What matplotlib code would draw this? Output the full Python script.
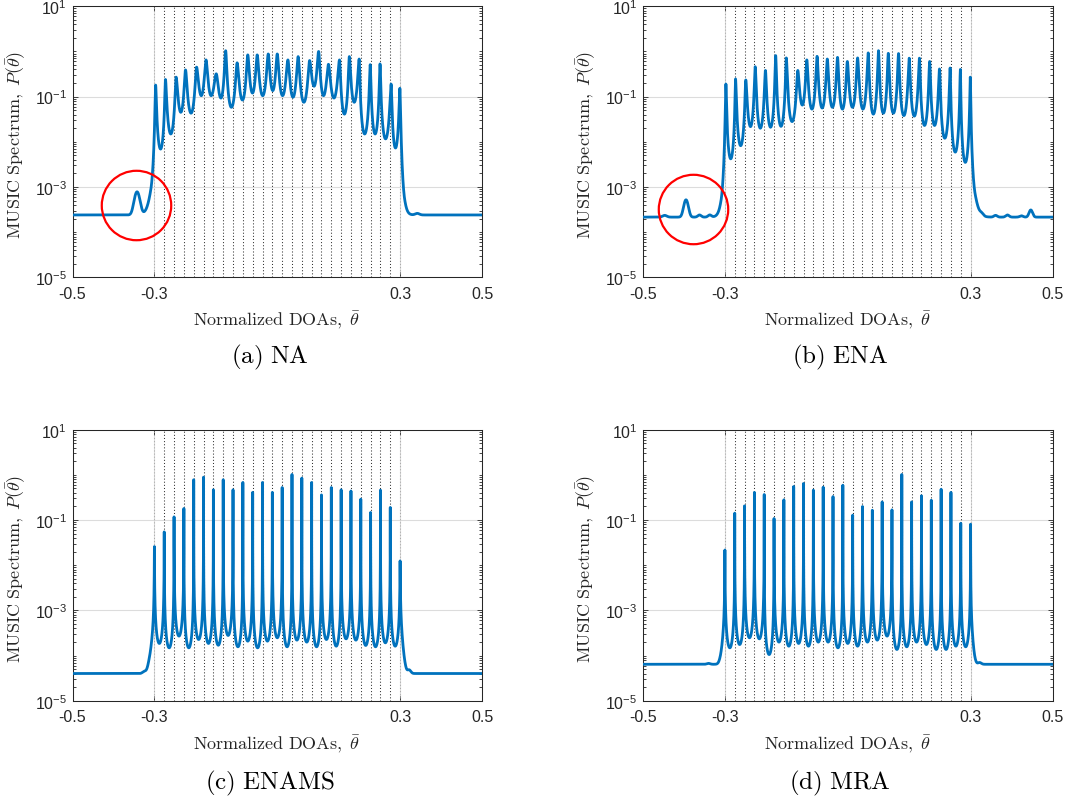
"""MUSIC spectra of four array geometries (NA, ENA, ENAMS, MRA)."""
import numpy as np
import matplotlib
matplotlib.use("Agg")
import matplotlib.pyplot as plt
from matplotlib import ticker

plt.rcParams.update({
    "font.family": ["Liberation Sans", "DejaVu Sans"],
    "mathtext.fontset": "custom",
    "mathtext.rm": "Liberation Sans",
    "mathtext.it": "Liberation Sans:italic",
    "mathtext.bf": "Liberation Sans:bold",
})

BLUE = "#0072BD"
INK = "#262626"

# true source directions (dotted lines)
DOAS = [-0.300, -0.276, -0.252, -0.228, -0.204, -0.180, -0.156, -0.132, -0.108,
        -0.084, -0.060, -0.036, -0.012, 0.012, 0.036, 0.060, 0.084, 0.108,
        0.132, 0.156, 0.180, 0.204, 0.228, 0.252, 0.276, 0.300]

# (a) NA -- peak positions / tops, valley floors between them
NA_PEAK_U = [-0.297, -0.273, -0.247, -0.224, -0.197, -0.174, -0.149, -0.126, -0.098,
             -0.072, -0.049, -0.022, 0.000, 0.026, 0.051, 0.079, 0.101, 0.125,
             0.152, 0.176, 0.200, 0.227, 0.251, 0.278, 0.2995]
NA_PEAK_P = [0.18, 0.24, 0.27, 0.39, 0.45, 0.65, 0.32, 1.04, 0.56, 0.84, 0.84, 0.88,
             0.88, 0.65, 0.77, 0.63, 1.0, 0.52, 0.65, 0.77, 0.68, 0.51, 0.53, 0.19, 0.153]
NA_VALLEY = [6.9e-3, 0.0149, 0.045, 0.043, 0.105, 0.105, 0.093, 0.058, 0.084, 0.12,
             0.105, 0.136, 0.105, 0.097, 0.075, 0.17, 0.105, 0.093, 0.041, 0.075,
             0.0149, 0.0149, 0.0116, 7.3e-3]
NA_FLOOR = 2.4e-4
NA_BUMP_U = [-0.3424, 0.342]
NA_BUMP_P = [7.8e-4, 2.6e-4]
NA_BUMP_W = [0.006, 0.005]
NA_EDGE = [(5e-3, 0.0057), (5e-3, 0.0041)]

# (b) ENA
ENA_PEAK_U = [-0.2976, -0.274, -0.249, -0.226, -0.201, -0.176, -0.150, -0.122, -0.100,
              -0.075, -0.050, -0.025, -0.001, 0.024, 0.050, 0.075, 0.099, 0.124,
              0.150, 0.175, 0.200, 0.224, 0.250, 0.275, 0.2992]
ENA_PEAK_P = [0.19, 0.246, 0.234, 0.46, 0.38, 0.81, 0.72, 0.38, 0.65, 0.78, 0.68, 0.74,
              0.60, 0.72, 0.93, 1.04, 0.91, 0.90, 0.71, 0.71, 0.60, 0.41, 0.43, 0.40, 0.27]
ENA_VALLEY = [4.2e-3, 8.2e-3, 0.0217, 0.020, 0.021, 0.022, 0.028, 0.065, 0.053, 0.056,
              0.058, 0.053, 0.058, 0.053, 0.041, 0.043, 0.043, 0.038, 0.037, 0.023,
              0.023, 0.012, 5.9e-3, 3.5e-3]
ENA_FLOOR = 2.15e-4
ENA_BUMP_U = [-0.447, -0.395, -0.362, -0.337, 0.327, 0.361, 0.390, 0.424, 0.447]
ENA_BUMP_P = [2.35e-4, 5.2e-4, 2.4e-4, 2.4e-4, 2.4e-4, 2.35e-4, 2.4e-4, 2.3e-4, 3.1e-4]
ENA_BUMP_W = [0.005, 0.005, 0.004, 0.004, 0.004, 0.004, 0.004, 0.004, 0.004]
ENA_EDGE = [(4e-3, 0.0045), (3.5e-3, 0.006)]

# (c) ENAMS -- one peak per source
ENAMS_PEAK_P = [0.0258, 0.0546, 0.1175, 0.18, 0.78, 0.89, 0.467, 0.78, 0.467, 0.68,
                0.41, 0.68, 0.41, 0.525, 1.02, 0.85, 0.68, 0.36, 0.525, 0.467, 0.44,
                0.29, 0.147, 0.46, 0.19, 0.0124]
ENAMS_VALLEY = [1.85e-4, 1.48e-4, 2.69e-4, 1.48e-4, 2.26e-4, 1.85e-4, 1.69e-4, 2.78e-4,
                1.56e-4, 2.08e-4, 1.48e-4, 2.08e-4, 2.47e-4, 1.56e-4, 2.19e-4, 1.98e-4,
                1.56e-4, 2.26e-4, 1.61e-4, 2.34e-4, 2.19e-4, 1.67e-4, 1.56e-4, 1.91e-4,
                1.61e-4]
ENAMS_FLOOR = 4.0e-5
ENAMS_BUMP_U = [-0.325, 0.322]
ENAMS_BUMP_P = [4.4e-5, 4.8e-5]
ENAMS_BUMP_W = [0.004, 0.004]
ENAMS_EDGE = [(1.8e-4, 0.0109), (1.8e-4, 0.009)]

# (d) MRA
MRA_PEAK_P = [0.0217, 0.142, 0.206, 0.41, 0.367, 0.108, 0.28, 0.553, 0.645, 0.46,
              0.534, 0.33, 0.59, 0.128, 0.199, 0.165, 0.252, 0.168, 1.02, 0.252,
              0.344, 0.275, 0.48, 0.41, 0.085, 0.081]
MRA_VALLEY = [1.48e-4, 1.75e-4, 2.47e-4, 2.34e-4, 1.05e-4, 1.98e-4, 1.61e-4, 1.85e-4,
              1.61e-4, 1.98e-4, 1.98e-4, 1.48e-4, 1.85e-4, 1.61e-4, 1.98e-4, 2.19e-4,
              2.69e-4, 1.36e-4, 1.56e-4, 1.98e-4, 1.75e-4, 1.36e-4, 1.36e-4, 1.61e-4,
              1.56e-4]
MRA_FLOOR = 6.4e-5
MRA_BUMP_U = [-0.340, 0.322]
MRA_BUMP_P = [6.7e-5, 7.0e-5]
MRA_BUMP_W = [0.004, 0.004]
MRA_EDGE = [(1.6e-4, 0.009), (1.6e-4, 0.008)]

CAPTIONS = ["(a) NA", "(b) ENA", "(c) ENAMS", "(d) MRA"]
CIRCLE_U = [-0.346, -0.378]
CIRCLE_P = [3.9e-4, 3.2e-4]

XTICKS = [-0.5, -0.3, 0.3, 0.5]
XTICK_LABELS = ["-0.5", "-0.3", "0.3", "0.5"]
YTICKS = [1e-5, 1e-3, 1e-1, 1e1]
YTICK_LABELS = [r"$\mathdefault{10^{-5}}$", r"$\mathdefault{10^{-3}}$",
                r"$\mathdefault{10^{-1}}$", r"$\mathdefault{10^{1}}$"]


def spectrum(pk_u, pk_p, valley, q, floor, bump_u, bump_p, bump_w, edge, taper_pow):
    """MUSIC-like curve passing through the read peak tops and valley floors."""
    pk_u = np.asarray(pk_u, float)
    pk_p = np.asarray(pk_p, float)
    x = np.union1d(np.linspace(-0.5, 0.5, 40001), pk_u)
    p = np.zeros_like(x)

    for i in range(len(pk_u) - 1):
        lo, hi = pk_u[i], pk_u[i + 1]
        m = (x >= lo) & (x <= hi)
        t = (x[m] - lo) / (hi - lo)
        s = np.abs(np.sin(np.pi * t)) ** q
        near = np.where(t < 0.5, pk_p[i], pk_p[i + 1])
        p[m] = 1.0 / ((1 - s) / near + s / valley[i])

    base = np.full_like(x, floor)
    for u, h, w in zip(bump_u, bump_p, bump_w):
        base += (h - floor) * np.exp(-0.5 * ((x - u) / w) ** 2)

    for side, (v_out, g) in zip((0, 1), edge):
        if side == 0:
            m = x < pk_u[0]
            d = pk_u[0] - x[m]
            pe = pk_p[0]
        else:
            m = x > pk_u[-1]
            d = x[m] - pk_u[-1]
            pe = pk_p[-1]
        t = np.minimum(d / 0.024, 0.5)
        s = np.abs(np.sin(np.pi * t)) ** q
        band = 1.0 / ((1 - s) / pe + s / v_out) * np.exp(-(d / g) ** taper_pow)
        p[m] = band + base[m]
    return x, p


PANELS = [
    (NA_PEAK_U, NA_PEAK_P, NA_VALLEY, 2.0, NA_FLOOR, NA_BUMP_U, NA_BUMP_P, NA_BUMP_W, NA_EDGE, 1),
    (ENA_PEAK_U, ENA_PEAK_P, ENA_VALLEY, 2.0, ENA_FLOOR, ENA_BUMP_U, ENA_BUMP_P, ENA_BUMP_W, ENA_EDGE, 1),
    (DOAS, ENAMS_PEAK_P, ENAMS_VALLEY, 1.3, ENAMS_FLOOR, ENAMS_BUMP_U, ENAMS_BUMP_P, ENAMS_BUMP_W, ENAMS_EDGE, 2),
    (DOAS, MRA_PEAK_P, MRA_VALLEY, 1.3, MRA_FLOOR, MRA_BUMP_U, MRA_BUMP_P, MRA_BUMP_W, MRA_EDGE, 2),
]

W, H = 1065, 804
fig = plt.figure(figsize=(W / 100, H / 100), dpi=100)

lefts = [72.5, 643.0]
tops = [7.3, 430.7]
aw, ah = 409.5, 271.0
cap_x = [270, 840]
cap_y = [357, 783]

for k, args in enumerate(PANELS):
    r, c = divmod(k, 2)
    ax = fig.add_axes([lefts[c] / W, 1 - (tops[r] + ah) / H, aw / W, ah / H])

    for u in DOAS:
        edge_line = abs(abs(u) - 0.3) < 1e-9
        ax.axvline(u, color="#aaaaaa" if edge_line else "#333333", lw=0.75,
                   ls=(0, (1, 2)), zorder=1)

    x, p = spectrum(*args)
    ax.plot(x, p, color=BLUE, lw=2.0, zorder=3)

    ax.set_yscale("log")
    ax.set_xlim(-0.5, 0.5)
    ax.set_ylim(1e-5, 10)
    ax.set_xticks(XTICKS)
    ax.set_xticklabels(XTICK_LABELS)
    ax.yaxis.set_major_locator(ticker.FixedLocator(YTICKS))
    ax.yaxis.set_major_formatter(ticker.FixedFormatter(YTICK_LABELS))
    ax.yaxis.set_minor_locator(ticker.LogLocator(base=10, subs=np.arange(1, 10), numticks=30))
    ax.yaxis.set_minor_formatter(ticker.NullFormatter())

    ax.grid(True, which="major", color="#dcdcdc", lw=0.8, zorder=0)
    ax.set_axisbelow(True)
    ax.tick_params(which="both", direction="in", top=True, right=True,
                   colors=INK, labelsize=11.5, width=0.6)
    ax.tick_params(which="major", length=3.5)
    ax.tick_params(which="minor", length=2)
    ax.tick_params(axis="x", pad=6)
    ax.tick_params(axis="y", pad=4)
    for sp in ax.spines.values():
        sp.set_color(INK)
        sp.set_linewidth(0.75)

    ax.set_xlabel(r"$\mathrm{Normalized\ DOAs,}\ \bar{\theta}$", fontsize=13,
                  color=INK, math_fontfamily="cm")
    ax.set_ylabel(r"$\mathrm{MUSIC\ Spectrum,}\ P(\bar{\theta})$", fontsize=13,
                  color=INK, math_fontfamily="cm")
    ax.xaxis.set_label_coords(0.5, -0.115)
    ax.yaxis.set_label_coords(-0.109, 0.49)

    if k < 2:
        ax.plot([CIRCLE_U[k]], [CIRCLE_P[k]], "o", ms=50, mfc="none", mec="red",
                mew=1.6, zorder=4, clip_on=False)

    fig.text(cap_x[c] / W, 1 - cap_y[r] / H, r"$\mathrm{" + CAPTIONS[k].replace(" ", r"\ ") + "}$",
             fontsize=18, ha="center", va="center", math_fontfamily="cm")

fig.savefig("out.png", dpi=100)
